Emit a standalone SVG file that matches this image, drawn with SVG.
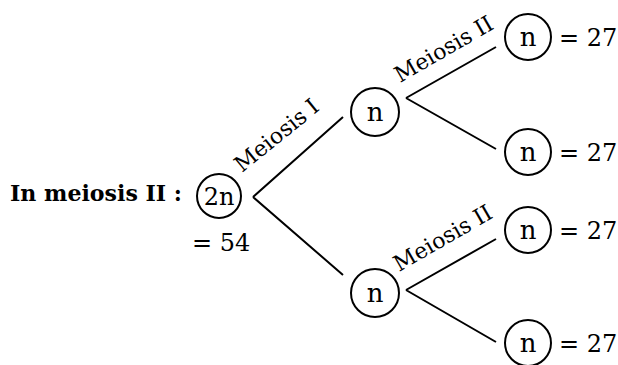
<svg xmlns="http://www.w3.org/2000/svg" width="618" height="365" viewBox="0 0 618 365">
<style>
.c{fill:#fff;stroke:#000;stroke-width:2}
.t{font-family:"DejaVu Serif","Liberation Serif",serif;font-size:24px;fill:#000}
.n{text-anchor:middle;font-size:26px}
.b{font-weight:bold;font-size:23px}
.lb{font-family:"DejaVu Serif","Liberation Serif",serif;font-size:22px;fill:#000}
.l{stroke:#000;stroke-width:2;fill:none}
</style>
<rect width="618" height="365" fill="#fff"/>
<text class="t b" x="10" y="201" textLength="172" lengthAdjust="spacingAndGlyphs">In meiosis II :</text>
<g id="edges">
<path class="l" d="M253,197 L343,117 M253,197 L343,275 M406,98 L496,47 M406,98 L496,149 M406,290 L496,239 M406,290 L496,342"/>
<text class="lb" transform="translate(242,173) rotate(-39)">Meiosis I</text>
<text class="lb" transform="translate(400,83) rotate(-30)">Meiosis II</text>
<text class="lb" transform="translate(399,272) rotate(-30)">Meiosis II</text>
</g>
<g id="root"><circle class="c" cx="219" cy="196" r="22"/><text class="t n" x="219" y="205" style="font-size:24px">2n</text><text class="t" x="192" y="251">= 54</text></g>
<g id="m1a"><circle class="c" cx="375" cy="112" r="24"/><text class="t n" x="375" y="121">n</text></g>
<g id="m1b"><circle class="c" cx="375" cy="293" r="24"/><text class="t n" x="375" y="302">n</text></g>
<g id="r1"><circle class="c" cx="528" cy="37" r="23"/><text class="t n" x="528" y="46">n</text><text class="t" x="559" y="46">= 27</text></g>
<g id="r2"><circle class="c" cx="528" cy="152" r="23"/><text class="t n" x="528" y="161">n</text><text class="t" x="559" y="161">= 27</text></g>
<g id="r3"><circle class="c" cx="528" cy="230" r="23"/><text class="t n" x="528" y="239">n</text><text class="t" x="559" y="239">= 27</text></g>
<g id="r4"><circle class="c" cx="528" cy="343" r="23"/><text class="t n" x="528" y="352">n</text><text class="t" x="559" y="352">= 27</text></g>
</svg>
